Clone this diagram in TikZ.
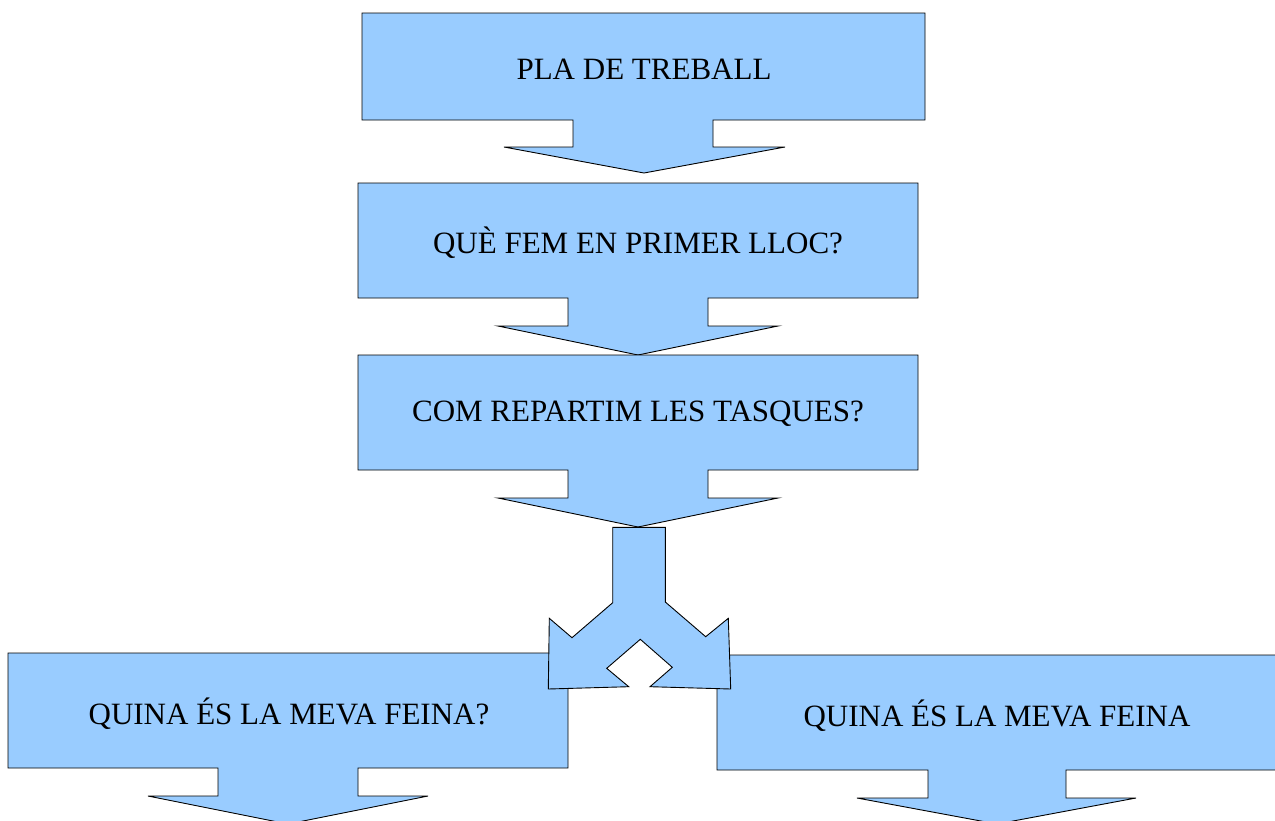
\documentclass[tikz,border=0pt]{standalone}
\usepackage{fontspec}
\setmainfont{Liberation Serif}
\definecolor{callblue}{HTML}{99CCFF}
\tikzset{
  callshape/.style={draw=black, fill=callblue, line width=0.9pt, line join=miter},
  calltext/.style={font=\fontsize{31}{35}\selectfont, text=black, inner sep=0pt}
}
\begin{document}
\begin{tikzpicture}[x=1pt,y=-1pt]
\useasboundingbox (0,0) rectangle (1275,820);
% callout 1
\draw[callshape] (362,13) -- (925,13) -- (925,120) -- (713,120) -- (713,147) -- (785,147)
  -- (644,173) -- (504,147) -- (573,147) -- (573,120) -- (362,120) -- cycle;
\node[calltext] (t1) at (644,69) {PLA DE TREBALL};
% callout 2
\draw[callshape] (358,183) -- (918,183) -- (918,298) -- (708,298) -- (708,326) -- (778,326)
  -- (638,355) -- (498,326) -- (568,326) -- (568,298) -- (358,298) -- cycle;
\node[calltext] (t2) at (638,243) {QUÈ FEM EN PRIMER LLOC?};
% callout 3
\draw[callshape] (358,355) -- (918,355) -- (918,470) -- (708,470) -- (708,498) -- (778,498)
  -- (638,527) -- (498,498) -- (568,498) -- (568,470) -- (358,470) -- cycle;
\node[calltext] (t3) at (638,414) {COM REPARTIM LES TASQUES?};
% callout 4 (left)
\draw[callshape] (8,653) -- (568,653) -- (568,768) -- (358,768) -- (358,796) -- (428,796)
  -- (288,824) -- (148,796) -- (218,796) -- (218,768) -- (8,768) -- cycle;
\node[calltext] (t4) at (289,714) {QUINA ÉS LA MEVA FEINA?};
% callout 5 (right)
\draw[callshape] (717,655) -- (1290,655) -- (1290,770) -- (1066,770) -- (1066,798) -- (1136,798)
  -- (997,824) -- (857,798) -- (928,798) -- (928,770) -- (717,770) -- cycle;
\node[calltext] (t5) at (997,716) {QUINA ÉS LA MEVA FEINA};
% split arrow
\draw[callshape] (612.7,527.3) -- (612.7,602.7) -- (572,637.7) -- (549.3,618.3) -- (548.3,689)
  -- (628.7,686.7) -- (606.7,668.3) -- (640.3,639.3) -- (672.3,667.3) -- (650,686.7)
  -- (730.7,689) -- (728.3,618.3) -- (705.7,636.7) -- (665.3,602) -- (665.3,527.3) -- cycle;
\end{tikzpicture}
\end{document}
